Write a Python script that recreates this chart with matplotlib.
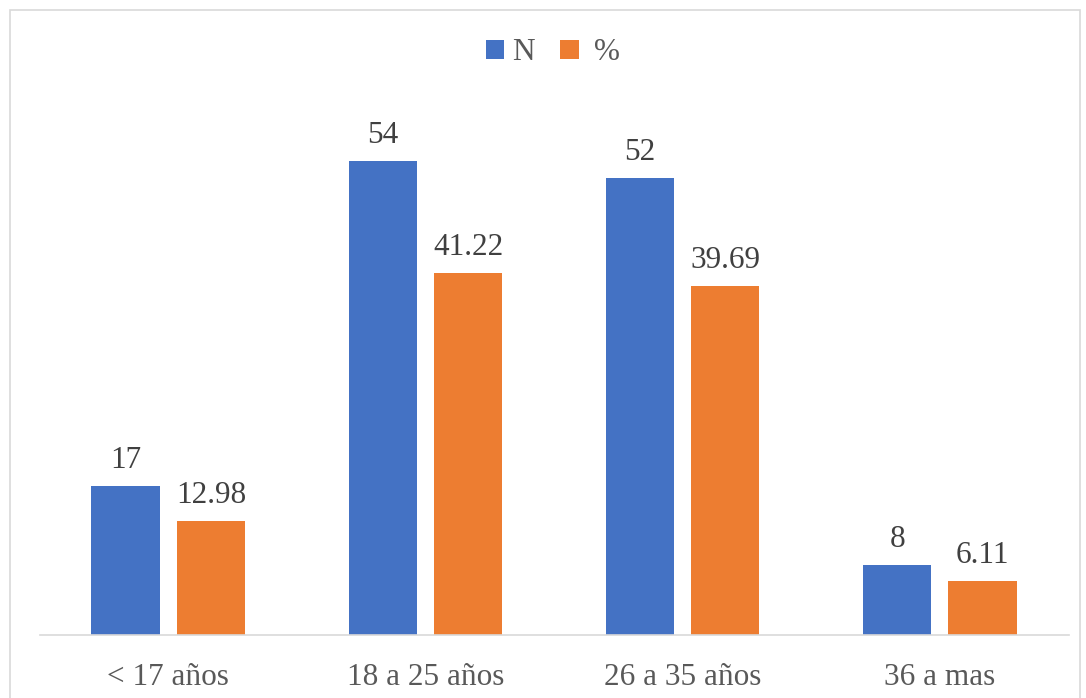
# Age group chart: N and % per group.
import matplotlib
matplotlib.use('Agg')
from matplotlib import pyplot as plt
from matplotlib.patches import Rectangle
import numpy as np

categories = ['< 17 años', '18 a 25 años', '26 a 35 años', '36 a mas']
n_values = [17, 54, 52, 8]
pct_values = [12.98, 41.22, 39.69, 6.11]
n_labels = ['17', '54', '52', '8']
pct_labels = ['12.98', '41.22', '39.69', '6.11']

plt.rcParams['font.family'] = ['Liberation Serif', 'DejaVu Serif']

fig = plt.figure(figsize=(10.86, 6.98), dpi=100)
ax = fig.add_axes([39.5 / 1086, 63 / 698, 1029 / 1086, 527 / 698])

x = np.arange(len(categories))
width = 0.265
blue = ax.bar(x - 0.166, n_values, width, color='#4472C4', label='N')
orange = ax.bar(x + 0.166, pct_values, width, color='#ED7D31', label=' %')

for bars, labels in ((blue, n_labels), (orange, pct_labels)):
    for b, lab in zip(bars, labels):
        ax.annotate(lab, (b.get_x() + b.get_width() / 2, b.get_height()),
                    xytext=(0, 8), textcoords='offset points',
                    ha='center', va='bottom', fontsize=22.5, color='#404040')

ax.set_xlim(-0.5, 3.5)
ax.set_ylim(0, 60)
ax.set_xticks(x)
ax.set_xticklabels(categories, fontsize=22.5, color='#595959')
ax.tick_params(axis='x', length=0, pad=20)
ax.set_yticks([])
for side in ('top', 'right', 'left'):
    ax.spines[side].set_visible(False)
ax.spines['bottom'].set_color('#D9D9D9')
ax.spines['bottom'].set_linewidth(1.2)

ax.legend(loc='center', bbox_to_anchor=(553 / 1086, (698 - 53) / 698),
          bbox_transform=fig.transFigure, ncol=2, frameon=False,
          fontsize=22.5, handlelength=0.6, handleheight=0.6,
          handletextpad=0.25, columnspacing=0.8, labelcolor='#595959')

# Chart border
fig.patches.append(Rectangle((10 / 1086, -5 / 698), 1070 / 1086, 693 / 698,
                             transform=fig.transFigure, fill=False,
                             edgecolor='#D9D9D9', linewidth=1.2))

fig.savefig('out.png', dpi=100)
